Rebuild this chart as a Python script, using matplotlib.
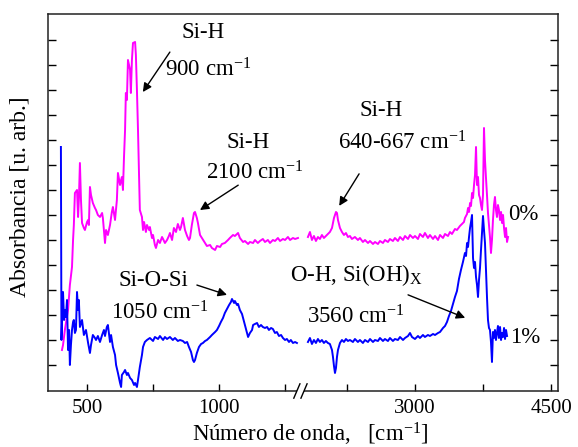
import numpy as np
import matplotlib
matplotlib.use('Agg')
import matplotlib.pyplot as plt
from matplotlib.patches import Rectangle

plt.rcParams['font.family'] = 'Liberation Serif'
plt.rcParams['mathtext.fontset'] = 'custom'
plt.rcParams['mathtext.rm'] = 'Liberation Serif'
plt.rcParams['mathtext.it'] = 'Liberation Serif:italic'

# muestra 0% (magenta) - tramo bajo y tramo alto
wn0_lo = [405, 409, 416, 428, 435, 443, 447, 450, 454, 462,
          466, 469, 473, 477, 481, 488, 492, 500, 504, 507,
          511, 515, 522, 530, 534, 541, 549, 557, 560, 568,
          572, 579, 587, 594, 598, 606, 613, 617, 625, 629,
          632, 636, 640, 644, 647, 651, 655, 663, 666, 670,
          674, 682, 685, 689, 693, 697, 700, 708, 712, 716,
          723, 727, 735, 738, 746, 750, 757, 761, 769, 776,
          784, 788, 795, 803, 810, 814, 822, 829, 837, 844,
          852, 856, 863, 867, 871, 879, 886, 890, 897, 905,
          909, 916, 920, 928, 935, 947, 954, 966, 973, 985,
          992, 1004, 1011, 1022, 1034, 1041, 1053, 1060, 1072, 1079,
          1091, 1098, 1110, 1117, 1129, 1136, 1147, 1155, 1166, 1174,
          1185, 1193, 1204, 1212, 1223, 1231, 1242, 1250, 1261, 1269,
          1280, 1288, 1299]
ab0_lo = [1.62, 1.82, 2.42, 3.22, 4.22, 4.94, 6.02, 6.62, 7.9, 8.02,
          6.94, 7.62, 9.1, 7.62, 6.7, 6.5, 6.42, 6.74, 6.82, 6.62,
          8.14, 7.82, 7.5, 7.3, 7.22, 7.02, 6.94, 7.1, 6.9, 5.9,
          6.42, 6.22, 6.62, 7.14, 7.34, 6.82, 7.62, 8.7, 8.22, 8.42,
          8.54, 8.02, 9.34, 10.42, 11.9, 11.62, 13.22, 12.82, 11.9, 13.22,
          13.9, 13.94, 13.42, 12.02, 10.42, 8.54, 7.22, 6.94, 6.42, 6.74,
          6.34, 6.62, 6.42, 6.54, 6.1, 6.22, 5.82, 5.7, 6.02, 5.9,
          6.14, 6.06, 5.9, 6.02, 6.18, 6.3, 6.02, 6.5, 6.34, 6.66,
          6.42, 6.54, 6.9, 6.66, 6.42, 6.18, 6.02, 6.1, 6.62, 7.1,
          7.14, 6.9, 6.7, 6.22, 6.1, 5.9, 5.78, 5.82, 5.7, 5.62,
          5.78, 5.74, 5.86, 5.9, 6.02, 6.1, 6.22, 6.18, 6.3, 6.1,
          5.94, 5.98, 5.86, 5.94, 5.9, 6.02, 5.9, 5.98, 6.06, 5.94,
          6.02, 5.9, 6.02, 5.98, 6.1, 5.98, 6.06, 6.02, 6.14, 6.02,
          6.1, 6.06, 6.1]
wn0_hi = [1820, 1842, 1864, 1886, 1908, 1930, 1952, 1974, 1996, 2018,
          2040, 2062, 2085, 2107, 2129, 2140, 2151, 2173, 2195, 2217,
          2239, 2261, 2283, 2305, 2338, 2371, 2393, 2426, 2449, 2482,
          2504, 2537, 2559, 2592, 2614, 2647, 2669, 2702, 2724, 2757,
          2779, 2812, 2835, 2868, 2890, 2923, 2945, 2978, 3000, 3033,
          3055, 3088, 3110, 3143, 3165, 3199, 3221, 3254, 3276, 3309,
          3331, 3364, 3386, 3408, 3441, 3463, 3496, 3518, 3540, 3551,
          3574, 3585, 3596, 3607, 3618, 3629, 3640, 3651, 3662, 3673,
          3684, 3695, 3706, 3717, 3728, 3739, 3750, 3761, 3772, 3783,
          3794, 3805, 3816, 3827, 3838, 3849, 3860, 3871, 3882, 3893,
          3904, 3915, 3926, 3938, 3949, 3960, 3971, 3982, 3993, 4004,
          4015, 4026]
ab0_hi = [6.14, 6.34, 6.02, 6.18, 5.98, 6.14, 6.06, 6.22, 6.1, 6.18,
          6.26, 6.34, 6.5, 6.9, 7.14, 7.1, 6.82, 6.5, 6.34, 6.22,
          6.3, 6.14, 6.18, 6.06, 6.14, 6.02, 6.1, 5.94, 6.02, 5.9,
          5.98, 5.86, 5.94, 5.86, 5.98, 5.9, 6.02, 5.94, 6.06, 5.98,
          6.1, 5.98, 6.14, 6.02, 6.18, 6.06, 6.22, 6.1, 6.18, 6.06,
          6.26, 6.14, 6.3, 6.1, 6.22, 6.06, 6.18, 6.02, 6.22, 6.1,
          6.26, 6.18, 6.34, 6.26, 6.46, 6.42, 6.58, 6.66, 6.74, 6.9,
          7.06, 7.3, 7.14, 7.5, 7.38, 7.9, 7.7, 8.22, 8.62, 9.74,
          8.22, 8.54, 7.82, 7.7, 7.42, 7.22, 7.82, 10.5, 9.22, 8.5,
          7.82, 7.1, 6.62, 6.14, 5.5, 6.02, 6.82, 7.42, 7.74, 7.22,
          6.94, 7.42, 7.22, 6.82, 7.14, 6.7, 7.02, 6.5, 6.14, 6.5,
          5.94, 6.14]

# muestra 1% (azul)
wn1_lo = [401, 403, 409, 413, 416, 420, 424, 428, 432, 435,
          439, 443, 447, 450, 454, 458, 462, 466, 469, 473,
          481, 488, 496, 504, 511, 515, 522, 530, 534, 541,
          549, 557, 564, 568, 575, 579, 587, 591, 598, 606,
          610, 617, 625, 629, 632, 640, 644, 651, 655, 663,
          670, 678, 682, 689, 693, 700, 708, 712, 719, 727,
          738, 750, 757, 769, 776, 788, 795, 803, 814, 825,
          833, 844, 852, 863, 871, 879, 886, 894, 901, 905,
          909, 916, 924, 932, 939, 947, 954, 966, 973, 985,
          992, 1000, 1007, 1015, 1022, 1030, 1038, 1045, 1049, 1057,
          1060, 1068, 1072, 1079, 1087, 1091, 1098, 1106, 1110, 1117,
          1125, 1129, 1136, 1144, 1151, 1159, 1166, 1174, 1182, 1189,
          1197, 1204, 1212, 1219, 1227, 1235, 1242, 1250, 1257, 1265,
          1272, 1280, 1288, 1295]
ab1_lo = [9.74, 2.02, 3.94, 2.82, 3.22, 2.94, 3.62, 1.62, 2.42, 1.02,
          1.82, 2.42, 2.74, 2.82, 2.3, 2.42, 3.94, 3.22, 3.62, 2.54,
          2.82, 2.22, 2.42, 1.9, 1.5, 1.82, 2.22, 2.1, 2.02, 2.18,
          1.94, 2.22, 2.42, 2.18, 2.54, 2.62, 1.94, 2.22, 1.74, 1.42,
          1.02, 0.7, 0.3, 0.14, 0.62, 0.74, 0.82, 0.62, 0.7, 0.5,
          0.42, 0.22, 0.3, 0.14, 0.42, 0.94, 1.42, 1.74, 1.94, 2.02,
          2.1, 1.98, 2.14, 2.06, 2.18, 2.02, 2.14, 2.06, 2.14, 2.02,
          2.1, 1.98, 2.02, 1.98, 1.9, 1.94, 1.74, 1.54, 1.22, 1.14,
          1.22, 1.5, 1.74, 1.86, 1.9, 1.98, 2.02, 2.14, 2.22, 2.34,
          2.42, 2.58, 2.74, 2.9, 3.1, 3.26, 3.42, 3.54, 3.66, 3.5,
          3.58, 3.42, 3.46, 3.22, 3.06, 2.9, 2.62, 2.3, 2.14, 2.3,
          2.42, 2.62, 2.66, 2.7, 2.54, 2.62, 2.54, 2.5, 2.54, 2.42,
          2.5, 2.46, 2.3, 2.34, 2.18, 2.22, 2.1, 2.02, 2.06, 1.94,
          2.02, 1.9, 1.94, 1.9]
wn1_hi = [1820, 1842, 1864, 1886, 1908, 1930, 1952, 1974, 1996, 2018,
          2040, 2062, 2085, 2096, 2107, 2118, 2129, 2140, 2151, 2173,
          2195, 2217, 2239, 2261, 2283, 2316, 2338, 2371, 2393, 2426,
          2449, 2482, 2504, 2537, 2559, 2592, 2614, 2647, 2669, 2702,
          2724, 2757, 2779, 2812, 2835, 2868, 2890, 2923, 2945, 2967,
          3000, 3033, 3055, 3088, 3110, 3143, 3165, 3199, 3221, 3254,
          3276, 3309, 3331, 3353, 3375, 3397, 3419, 3441, 3463, 3485,
          3507, 3529, 3551, 3563, 3574, 3585, 3596, 3607, 3618, 3629,
          3640, 3651, 3662, 3673, 3684, 3695, 3706, 3717, 3728, 3739,
          3750, 3761, 3772, 3783, 3794, 3805, 3816, 3827, 3838, 3849,
          3860, 3871, 3882, 3893, 3904, 3915, 3926, 3938, 3949, 3960,
          3971, 3982, 3993, 4004, 4015]
ab1_hi = [1.94, 2.1, 1.86, 2.02, 1.9, 2.06, 1.94, 2.02, 1.9, 1.98,
          1.9, 1.86, 1.62, 1.34, 0.98, 0.7, 0.9, 1.34, 1.62, 1.9,
          2.02, 1.94, 2.06, 1.98, 2.02, 1.94, 2.06, 1.94, 2.02, 1.9,
          2.02, 1.94, 2.06, 1.94, 2.02, 1.98, 2.1, 1.98, 2.06, 1.98,
          2.1, 1.98, 2.06, 2.02, 2.14, 2.02, 2.1, 2.18, 2.3, 2.14,
          2.06, 2.18, 2.1, 2.22, 2.14, 2.22, 2.18, 2.26, 2.22, 2.3,
          2.34, 2.5, 2.58, 2.74, 2.98, 3.18, 3.46, 3.74, 3.98, 4.46,
          4.82, 5.14, 5.5, 5.38, 5.9, 5.74, 6.14, 6.5, 6.74, 7.02,
          5.3, 4.9, 5.14, 4.54, 4.22, 3.74, 4.42, 4.9, 5.62, 6.3,
          6.98, 6.42, 5.9, 4.82, 3.74, 2.82, 2.5, 2.42, 1.94, 1.14,
          2.34, 2.1, 2.42, 2.02, 2.3, 2.58, 2.1, 2.54, 2.02, 2.3,
          2.14, 2.5, 2.06, 2.42, 2.18]

xticks_major = [500, 1000, 3000, 4500]
xticks_minor = [750, 1250, 2250, 3750]


# eje x cortado: dos tramos lineales con distinta escala
def fwd(x):
    x = np.asarray(x, dtype=float)
    return np.where(x < 1500, (x - 352) * 0.264, 252 + (x - 1732) * 0.0907)


def inv(u):
    u = np.asarray(u, dtype=float)
    return np.where(u < 252, 352 + u / 0.264, 1732 + (u - 252) / 0.0907)


fig = plt.figure(figsize=(5.78, 4.47), dpi=100)
ax = fig.add_axes([0.083, 0.1253, 0.8824, 0.8434])
ax.set_xscale('function', functions=(fwd, inv))

ax.plot(wn0_lo, ab0_lo, color='#ff00ff', lw=1.4)
ax.plot(wn0_hi, ab0_hi, color='#ff00ff', lw=1.4)
ax.plot(wn1_lo, ab1_lo, color='#0000ff', lw=1.4)
ax.plot(wn1_hi, ab1_hi, color='#0000ff', lw=1.4)

ax.set_xlim(352, 4577)
ax.set_ylim(-0.02, 15.06)
ax.set_xticks(xticks_major)
ax.set_xticklabels([str(v) for v in xticks_major])
ax.set_xticks(xticks_minor, minor=True)
ax.set_yticks(np.arange(1, 15))
ax.tick_params(axis='x', which='both', direction='in', length=5, width=1,
               labelsize=15, pad=6)
ax.tick_params(axis='y', direction='in', length=6, width=1,
               left=True, right=True, labelleft=False)
for s in ax.spines.values():
    s.set_linewidth(1.1)
    s.set_color('#222222')

# marca de corte //
ax.add_patch(Rectangle((0.488, -0.012), 0.014, 0.024, transform=ax.transAxes,
                       facecolor='white', edgecolor='none', clip_on=False, zorder=5))
ax.plot([0.482, 0.494], [-0.019, 0.019], transform=ax.transAxes, color='k',
        lw=1, clip_on=False, zorder=6)
ax.plot([0.496, 0.508], [-0.019, 0.019], transform=ax.transAxes, color='k',
        lw=1, clip_on=False, zorder=6)

fs = 16.5
tr = ax.transAxes
ax.text(0.304, 0.950, 'Si-H', fontsize=fs, ha='center', va='center', transform=tr)
ax.text(0.314, 0.851, '900 cm$^{-1}$', fontsize=fs, ha='center', va='center', transform=tr)
ax.text(0.392, 0.660, 'Si-H', fontsize=fs, ha='center', va='center', transform=tr)
ax.text(0.406, 0.578, '2100 cm$^{-1}$', fontsize=fs, ha='center', va='center', transform=tr)
ax.text(0.653, 0.745, 'Si-H', fontsize=fs, ha='center', va='center', transform=tr)
ax.text(0.694, 0.658, '640-667 cm$^{-1}$', fontsize=fs, ha='center', va='center', transform=tr)
ax.text(0.902, 0.467, '0%', fontsize=fs, ha='left', va='center', transform=tr)
ax.text(0.206, 0.294, 'Si-O-Si', fontsize=fs, ha='center', va='center', transform=tr)
ax.text(0.220, 0.207, '1050 cm$^{-1}$', fontsize=fs, ha='center', va='center', transform=tr)
ax.text(0.475, 0.308, 'O-H, Si(OH)$_{\\mathrm{X}}$', fontsize=fs, ha='left', va='center', transform=tr)
ax.text(0.508, 0.196, '3560 cm$^{-1}$', fontsize=fs, ha='left', va='center', transform=tr)
ax.text(0.906, 0.141, '1%', fontsize=fs, ha='left', va='center', transform=tr)

flechas = [((0.239, 0.899), (0.186, 0.793)),
           ((0.373, 0.546), (0.298, 0.480)),
           ((0.610, 0.576), (0.571, 0.491)),
           ((0.292, 0.281), (0.351, 0.255)),
           ((0.706, 0.255), (0.818, 0.194))]
for cola, punta in flechas:
    ax.annotate('', xy=punta, xytext=cola, xycoords='axes fraction',
                textcoords='axes fraction',
                arrowprops=dict(arrowstyle='-|>', color='k', lw=1,
                                mutation_scale=13, shrinkA=0, shrinkB=0))

ax.set_xlabel('Número de onda,   [cm$^{-1}$]', fontsize=16.5)
ax.xaxis.set_label_coords(0.515, -0.08)
ax.set_ylabel('Absorbancia [u. arb.]', fontsize=17)
ax.yaxis.set_label_coords(-0.035, 0.515)

fig.savefig('out.png', dpi=100)
